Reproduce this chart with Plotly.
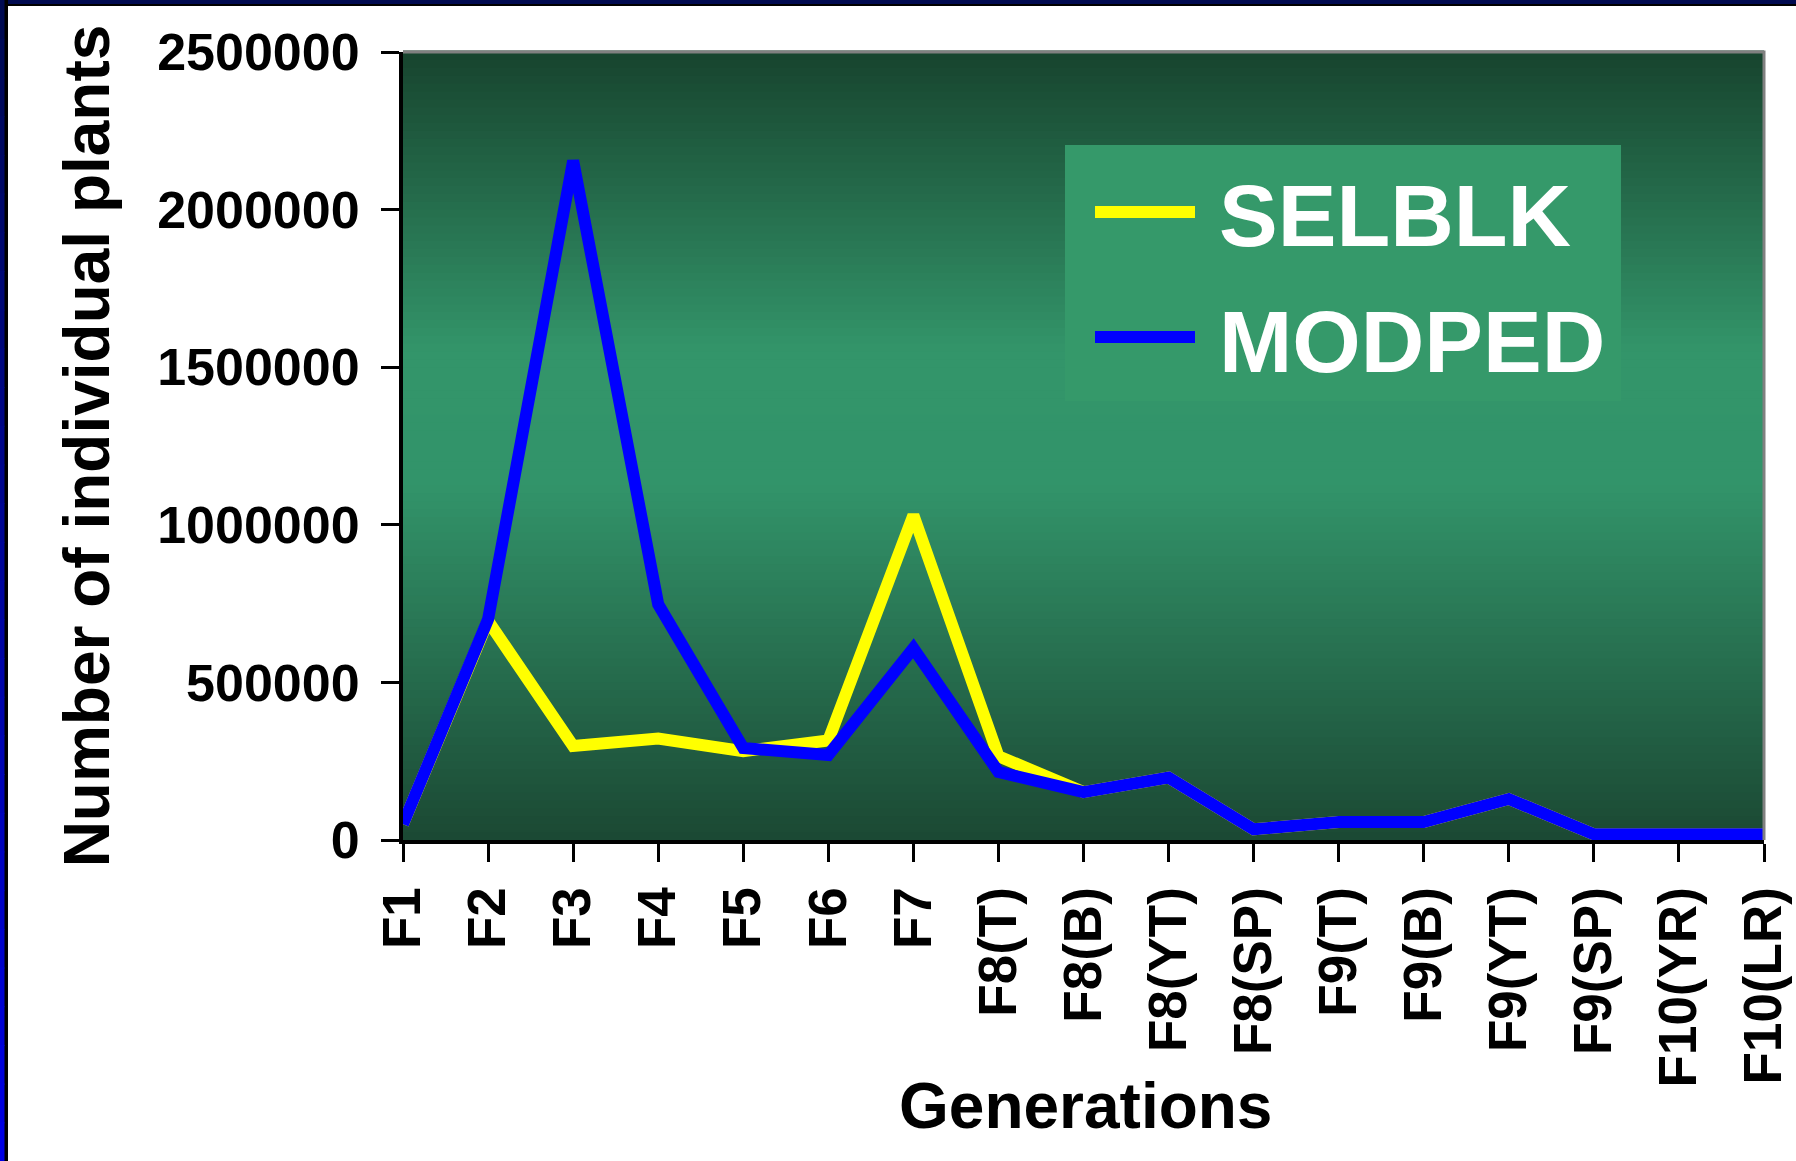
import plotly.graph_objects as go

# ---- data ----
generations = ["F1", "F2", "F3", "F4", "F5", "F6", "F7", "F8(T)", "F8(B)", "F8(YT)",
               "F8(SP)", "F9(T)", "F9(B)", "F9(YT)", "F9(SP)", "F10(YR)", "F10(LR)"]
selblk = [50000, 695000, 298000, 322000, 282000, 316000, 1030000, 266000, 152000, 198000,
          34000, 57000, 57000, 130000, 18000, 18000, 18000]
modped = [50000, 700000, 2155000, 748000, 292000, 270000, 608000, 216000, 152000, 198000,
          34000, 57000, 57000, 130000, 18000, 18000, 18000]
y_ticks = [0, 500000, 1000000, 1500000, 2000000, 2500000]
series_names = ["SELBLK", "MODPED"]
series_colors = ["#ffff00", "#0000ff"]

W, H = 1796, 1161
L, R, T, B = 403, 1764, 52, 840  # plot area in pixels
FONT = "Liberation Sans, Arial, sans-serif"


def px(x):
    return (x - L) / (R - L)


def py(y):
    return (B - y) / (B - T)


def hexmix(c1, c2, t):
    a = [int(c1[i:i + 2], 16) for i in (1, 3, 5)]
    b = [int(c2[i:i + 2], 16) for i in (1, 3, 5)]
    return "#%02x%02x%02x" % tuple(round(a[k] + (b[k] - a[k]) * t) for k in range(3))


fig = go.Figure()
for name, vals, col in zip(series_names, [selblk, modped], series_colors):
    fig.add_trace(go.Scatter(x=generations, y=vals, mode="lines", name=name,
                             line=dict(color=col, width=12), showlegend=False))

shapes = []
# gradient plot background
stops = [(0.0, "#1b4833"), (0.45, "#32946a"), (0.62, "#33956a"), (1.0, "#17442e")]
N = 100
for i in range(N):
    f0, f1 = i / N, (i + 1) / N
    fm = (f0 + f1) / 2
    for (a, ca), (b, cb) in zip(stops[:-1], stops[1:]):
        if a <= fm <= b:
            col = hexmix(ca, cb, (fm - a) / (b - a))
            break
    shapes.append(dict(type="rect", xref="x domain", yref="y domain", x0=0, x1=1,
                       y0=f0, y1=f1 + 0.002, fillcolor=col, line=dict(width=0), layer="below"))
# gray top/right border
shapes.append(dict(type="path", xref="paper", yref="paper",
                   path="M 0,1 L 1,1 L 1,0", line=dict(color="#808080", width=3)))
# outer frame: top and left
shapes.append(dict(type="rect", xref="paper", yref="paper", x0=px(0), x1=px(W),
                   y0=py(6), y1=py(0), fillcolor="#000000", line=dict(width=0)))
shapes.append(dict(type="rect", xref="paper", yref="paper", x0=px(0), x1=px(W),
                   y0=py(4), y1=py(0), fillcolor="#000a50", line=dict(width=0)))
shapes.append(dict(type="rect", xref="paper", yref="paper", x0=px(0), x1=px(8),
                   y0=py(H), y1=py(0), fillcolor="#000000", line=dict(width=0)))
M = 30
for i in range(M):
    y0 = H * i / M
    y1 = H * (i + 1) / M
    shapes.append(dict(type="rect", xref="paper", yref="paper", x0=px(0), x1=px(4.5),
                       y0=py(y1 + 1), y1=py(y0), fillcolor=hexmix("#000a50", "#0000e6", (i + 0.5) / M),
                       line=dict(width=0)))
# manual legend
shapes.append(dict(type="rect", xref="paper", yref="paper", x0=px(1065), x1=px(1621),
                   y0=py(401), y1=py(145), fillcolor="#35996a", line=dict(width=0)))
for yy, col in [(212, series_colors[0]), (337, series_colors[1])]:
    shapes.append(dict(type="line", xref="paper", yref="paper", x0=px(1095), x1=px(1195),
                       y0=py(yy), y1=py(yy), line=dict(color=col, width=12)))

annotations = []
for yy, name in [(215, series_names[0]), (341, series_names[1])]:
    annotations.append(dict(xref="paper", yref="paper", x=px(1217), y=py(yy), text="<b>%s</b>" % name,
                            showarrow=False, xanchor="left", yanchor="middle",
                            font=dict(family=FONT, size=88, color="white")))
# x axis title
annotations.append(dict(xref="paper", yref="paper", x=px(1085), y=py(1106), text="<b>Generations</b>",
                        showarrow=False, xanchor="center", yanchor="middle",
                        font=dict(family=FONT, size=64, color="black")))

fig.update_layout(
    width=W, height=H,
    margin=dict(l=L, r=W - R, t=T, b=H - B, pad=0),
    paper_bgcolor="white", plot_bgcolor="#1b4833",
    shapes=shapes, annotations=annotations,
    showlegend=False,
    font=dict(family=FONT, color="black"),
)
fig.update_xaxes(
    type="category", range=[0, len(generations) - 1],
    showgrid=False, zeroline=False,
    showline=True, linecolor="black", linewidth=4,
    ticks="outside", ticklen=18, tickwidth=3, tickcolor="black",
    tickangle=-90, tickfont=dict(family=FONT, size=53, color="black"),
    ticklabelstandoff=4,
    tickvals=generations, ticktext=["<b>%s</b>" % g for g in generations],
    automargin=False,
)
fig.update_yaxes(
    range=[0, 2500000], tickvals=y_ticks, ticktext=["<b>%d</b>" % v for v in y_ticks],
    showgrid=False, zeroline=False,
    showline=True, linecolor="black", linewidth=4,
    ticks="outside", ticklen=18, tickwidth=3, tickcolor="black",
    tickfont=dict(family=FONT, size=52, color="black"),
    ticklabelstandoff=11,
    title=dict(text="<b>Number of individual plants</b>", font=dict(family=FONT, size=64, color="black"), standoff=28),
    automargin=False,
)

fig.write_html("out.html", config={"displayModeBar": False},
               post_script="document.body.style.margin='0px';")
